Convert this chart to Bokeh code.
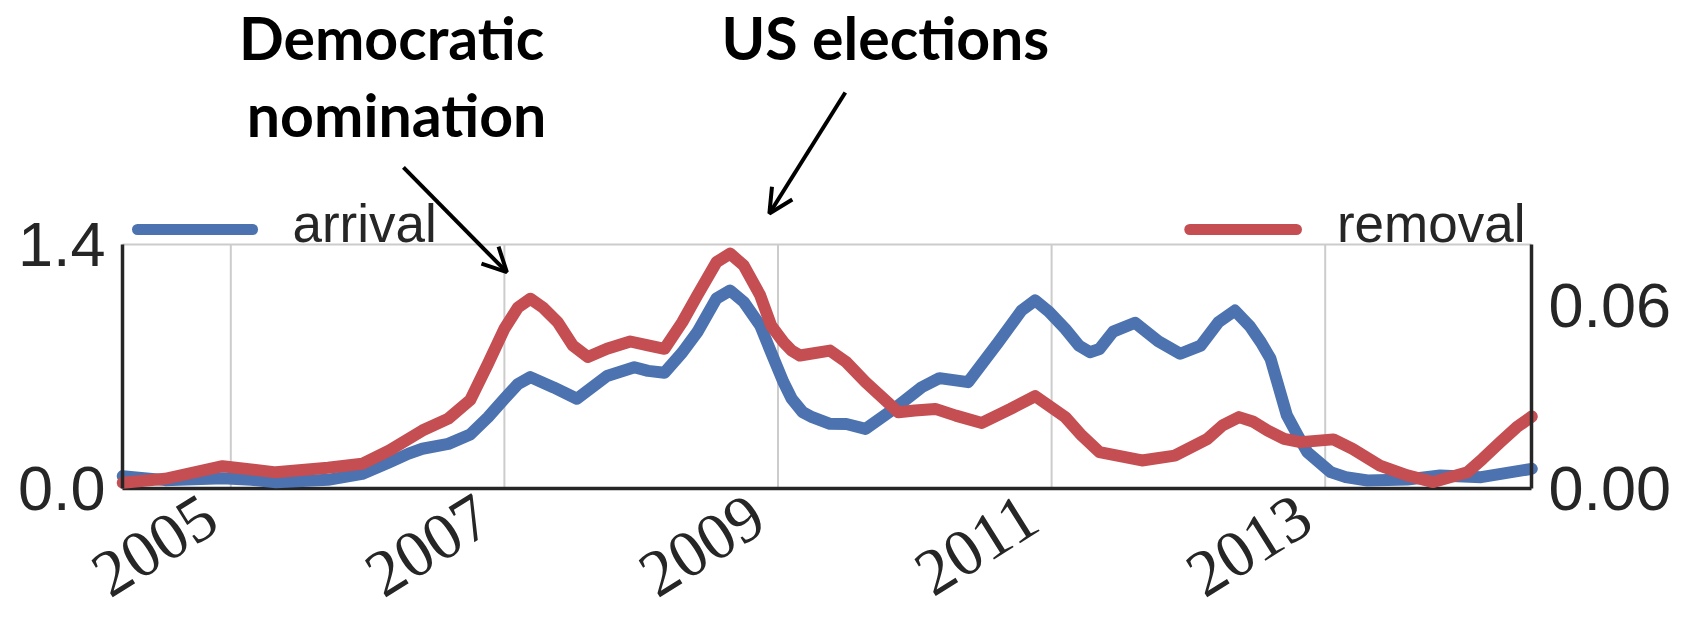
import math
from bokeh.plotting import figure
from bokeh.models import (Range1d, LinearAxis, FixedTicker, PrintfTickFormatter,
                          Label, Arrow, OpenHead)
from bokeh.embed import file_html
from bokeh.resources import INLINE

# ---------------- data ----------------
arrival_year = [2004.21, 2004.52, 2004.94, 2005.15, 2005.33, 2005.71, 2005.96, 2006.16,
                2006.30, 2006.40, 2006.59, 2006.75, 2006.88, 2007.00, 2007.10, 2007.19,
                2007.36, 2007.53, 2007.75, 2007.95, 2008.05, 2008.17, 2008.30, 2008.41,
                2008.55, 2008.65, 2008.75, 2008.87, 2008.95, 2009.04, 2009.10, 2009.18,
                2009.25, 2009.38, 2009.50, 2009.64, 2009.88, 2010.05, 2010.18, 2010.39,
                2010.61, 2010.70, 2010.78, 2010.88, 2010.98, 2011.10, 2011.20, 2011.28,
                2011.35, 2011.45, 2011.61, 2011.78, 2011.94, 2012.09, 2012.22, 2012.34,
                2012.45, 2012.53, 2012.60, 2012.72, 2012.80, 2012.87, 2013.04, 2013.15,
                2013.31, 2013.60, 2013.84, 2014.14, 2014.51]
arrival = [0.071, 0.048, 0.059, 0.050, 0.036, 0.050, 0.084, 0.151,
           0.200, 0.228, 0.256, 0.310, 0.409, 0.515, 0.600, 0.639,
           0.580, 0.515, 0.645, 0.696, 0.675, 0.664, 0.780, 0.897,
           1.090, 1.136, 1.070, 0.935, 0.780, 0.610, 0.515, 0.438,
           0.409, 0.371, 0.370, 0.342, 0.476, 0.581, 0.633, 0.610,
           0.839, 0.935, 1.021, 1.079, 1.015, 0.916, 0.820, 0.782,
           0.800, 0.900, 0.951, 0.845, 0.773, 0.820, 0.955, 1.021,
           0.930, 0.839, 0.745, 0.419, 0.304, 0.208, 0.094, 0.065,
           0.046, 0.052, 0.075, 0.065, 0.113]

removal_year = [2004.21, 2004.52, 2004.94, 2005.33, 2005.71, 2005.96, 2006.16, 2006.40,
                2006.59, 2006.75, 2006.88, 2007.00, 2007.10, 2007.19, 2007.28, 2007.39,
                2007.50, 2007.61, 2007.75, 2007.92, 2008.05, 2008.17, 2008.30, 2008.41,
                2008.55, 2008.65, 2008.75, 2008.87, 2008.95, 2009.04, 2009.10, 2009.16,
                2009.38, 2009.50, 2009.64, 2009.88, 2010.00, 2010.15, 2010.30, 2010.49,
                2010.70, 2010.88, 2011.10, 2011.22, 2011.35, 2011.66, 2011.90, 2012.14,
                2012.25, 2012.37, 2012.47, 2012.58, 2012.70, 2012.82, 2013.06, 2013.20,
                2013.40, 2013.60, 2013.79, 2014.04, 2014.15, 2014.28, 2014.40, 2014.51]
removal = [0.0019, 0.0032, 0.0073, 0.0053, 0.0068, 0.0081, 0.0125, 0.0190,
           0.0229, 0.0290, 0.0409, 0.0524, 0.0594, 0.0622, 0.0594, 0.0545,
           0.0469, 0.0431, 0.0458, 0.0482, 0.0469, 0.0458, 0.0545, 0.0633,
           0.0742, 0.0770, 0.0731, 0.0633, 0.0534, 0.0480, 0.0452, 0.0436,
           0.0452, 0.0414, 0.0349, 0.0250, 0.0256, 0.0261, 0.0239, 0.0215,
           0.0261, 0.0303, 0.0234, 0.0174, 0.0119, 0.0092, 0.0108, 0.0163,
           0.0207, 0.0234, 0.0220, 0.0190, 0.0163, 0.0152, 0.0161, 0.0130,
           0.0075, 0.0043, 0.0021, 0.0053, 0.0097, 0.0152, 0.0201, 0.0236]

x_ticks = [2005, 2007, 2009, 2011, 2013]
x_tick_labels = ["2005", "2007", "2009", "2011", "2013"]
left_ticks = [0.0, 1.4]
right_ticks = [0.00, 0.06]
series_names = ["arrival", "removal"]
annotations = ["Democratic", "nomination", "US elections"]

# axis extents (data units)
X_MIN, X_MAX = 2004.208, 2014.508
Y_TOP_AXIS = 1.4
R_TOP_AXIS = 0.08
# visible window (the frame fills the whole canvas)
VIEW_X = (2003.3165, 2015.6338)
VIEW_Y = (-0.7573, 2.7998)

BLUE = "#4C72B0"
RED = "#C44E52"
DARK = "#262626"
GRID = "#cccccc"
TICK_FONT = "Liberation Sans"
ANN_FONT = "Lato"

p = figure(width=1685, height=620,
           min_border_left=0, min_border_right=0,
           min_border_top=0, min_border_bottom=0,
           x_range=Range1d(*VIEW_X), y_range=Range1d(*VIEW_Y),
           output_backend="svg", toolbar_location=None)
p.extra_y_ranges = {"right": Range1d(VIEW_Y[0] * R_TOP_AXIS / Y_TOP_AXIS,
                                     VIEW_Y[1] * R_TOP_AXIS / Y_TOP_AXIS)}
p.outline_line_color = None
p.background_fill_color = "white"
p.border_fill_color = "white"
p.xaxis.visible = False
p.xgrid.visible = False
p.ygrid.visible = False

right_axis = LinearAxis(y_range_name="right")
p.add_layout(right_axis, "right")

def style_axis(ax):
    ax.axis_line_color = DARK
    ax.axis_line_width = 3.5
    ax.major_tick_line_color = None
    ax.minor_tick_line_color = None
    ax.major_tick_out = 0
    ax.major_tick_in = 0
    ax.minor_tick_out = 0
    ax.major_label_text_font = TICK_FONT
    ax.major_label_text_font_size = "63px"
    ax.major_label_text_color = DARK
    ax.major_label_standoff = 17

left_axis = p.yaxis[0]
for ax in [left_axis, right_axis]:
    style_axis(ax)

left_axis.ticker = FixedTicker(ticks=left_ticks)
left_axis.formatter = PrintfTickFormatter(format="%.1f")
left_axis.bounds = (0, Y_TOP_AXIS)
left_axis.fixed_location = X_MIN
right_axis.ticker = FixedTicker(ticks=right_ticks)
right_axis.formatter = PrintfTickFormatter(format="%.2f")
right_axis.bounds = (0, R_TOP_AXIS)
right_axis.fixed_location = X_MAX

# grid lines (only inside the axes box)
p.segment(x0=x_ticks, y0=[0] * len(x_ticks), x1=x_ticks, y1=[Y_TOP_AXIS] * len(x_ticks),
          line_color=GRID, line_width=2)
p.segment(x0=[X_MIN], y0=[Y_TOP_AXIS], x1=[X_MAX], y1=[Y_TOP_AXIS],
          line_color=GRID, line_width=2)

# bottom spine
p.segment(x0=[X_MIN], y0=[0], x1=[X_MAX], y1=[0], line_color=DARK, line_width=3.5)

# x tick labels
p.text(x=x_ticks, y=[0] * len(x_ticks), text=x_tick_labels, angle=math.radians(32),
       x_offset=-20, y_offset=22, text_align="right", text_baseline="middle",
       text_font=TICK_FONT, text_font_size="66px", text_color=DARK)

p.line(arrival_year, arrival, line_width=12, line_color=BLUE,
       line_join="round", line_cap="round")
p.line(removal_year, removal, line_width=12, line_color=RED,
       line_join="round", line_cap="round", y_range_name="right")

# legend entries
p.segment(x0=[2004.318], y0=[1.486], x1=[2005.159], y1=[1.486],
          line_width=11, line_color=BLUE, line_cap="round")
p.add_layout(Label(x=2005.451, y=1.521, text=series_names[0], text_font=TICK_FONT,
                   text_font_size="53px", text_color=DARK,
                   text_align="left", text_baseline="alphabetic"))
p.segment(x0=[2012.01], y0=[1.486], x1=[2012.79], y1=[1.486],
          line_width=11, line_color=RED, line_cap="round")
p.add_layout(Label(x=2014.464, y=1.521, text=series_names[1], text_font=TICK_FONT,
                   text_font_size="53px", text_color=DARK,
                   text_align="right", text_baseline="alphabetic"))

# annotations
for txt, x, y in [(annotations[0], 2006.175, 2.590),
                  (annotations[1], 2006.212, 2.145),
                  (annotations[2], 2009.785, 2.590)]:
    p.add_layout(Label(x=x, y=y, text=txt, text_font=ANN_FONT,
                       text_font_style="bold", text_font_size="59px",
                       text_color="black", text_align="center",
                       text_baseline="alphabetic"))

p.add_layout(Arrow(end=OpenHead(size=24, line_width=4, line_color="black"),
                   x_start=2006.262, y_start=1.842, x_end=2007.018, y_end=1.241,
                   line_width=4, line_color="black"))
p.add_layout(Arrow(end=OpenHead(size=24, line_width=4, line_color="black"),
                   x_start=2009.492, y_start=2.272, x_end=2008.937, y_end=1.578,
                   line_width=4, line_color="black"))

open("out.html", "w").write(file_html(p, INLINE))
